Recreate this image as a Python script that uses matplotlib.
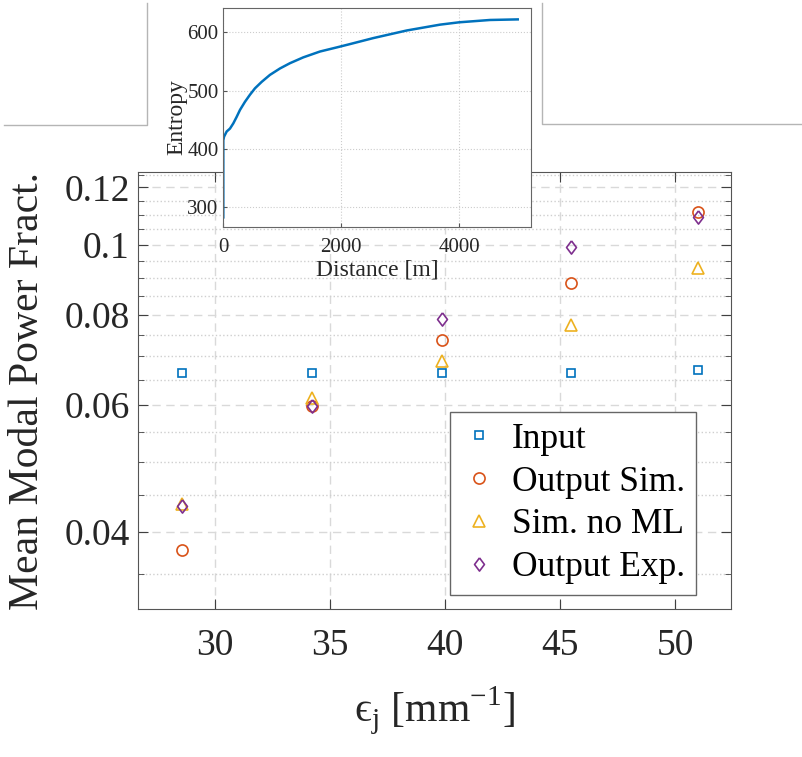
import numpy as np
import matplotlib
matplotlib.use('Agg')
import matplotlib.pyplot as plt
from matplotlib.lines import Line2D
from matplotlib.ticker import FixedLocator, NullFormatter

plt.rcParams['font.family'] = ['Liberation Serif', 'DejaVu Serif']
plt.rcParams['mathtext.fontset'] = 'custom'
plt.rcParams['mathtext.rm'] = 'Liberation Serif'

# main plot data
eps_j = [28.58, 34.23, 39.88, 45.48, 51.01]
input_vals = [0.0663, 0.0663, 0.0664, 0.0665, 0.0670]
output_sim = [0.0378, 0.0598, 0.0737, 0.0885, 0.1108]
sim_no_ml = [0.0437, 0.0614, 0.0690, 0.0773, 0.0929]
output_exp = [0.0435, 0.0598, 0.0788, 0.0993, 0.1092]

y_ticks = [0.04, 0.06, 0.08, 0.1, 0.12]
y_tick_labels = ['0.04', '0.06', '0.08', '0.1', '0.12']
y_minor = [0.035, 0.045, 0.05, 0.055, 0.065, 0.07, 0.075,
           0.085, 0.09, 0.095, 0.105, 0.11, 0.115, 0.125]
x_ticks = [30, 35, 40, 45, 50]

# inset data
distance = [0, 0, 12, 57, 113, 170, 226, 283, 368, 452, 537, 650, 791, 961,
            1130, 1356, 1639, 1922, 2119, 2543, 3108, 3673, 3995, 4520, 4990]
entropy = [283, 415, 421, 430, 435, 444, 455, 467, 481, 493, 504, 515, 527,
           538, 547, 557, 567, 574, 579, 590, 603, 613, 617, 621, 622]

BLUE = '#0072BD'
ORANGE = '#D95319'
YELLOW = '#EDB120'
PURPLE = '#7E2F8E'
W, H = 803, 757

# wider diamond like MATLAB's
diamond = [(0, 1), (0.75, 0), (0, -1), (-0.75, 0), (0, 1)]

fig = plt.figure(figsize=(W / 100, H / 100), dpi=100)

# outline remains around the inset
for xs, ys in [((4, 147, 147), (125, 125, 3)), ((541.7, 541.7, 803), (3, 124, 124))]:
    fig.add_artist(Line2D([x / W for x in xs], [1 - y / H for y in ys],
                          transform=fig.transFigure, color='#b5b5b5', lw=1))

ax = fig.add_axes([138 / W, 1 - 609 / H, (731 - 138) / W, (609 - 172) / H])
ax.set_yscale('log')
ax.plot(eps_j, input_vals, 's', mfc='none', mec=BLUE, ms=6, mew=1.2, label='Input')
ax.plot(eps_j, output_sim, 'o', mfc='none', mec=ORANGE, ms=8, mew=1.2, label='Output Sim.')
ax.plot(eps_j, sim_no_ml, '^', mfc='none', mec=YELLOW, ms=8.5, mew=1.2, label='Sim. no ML')
ax.plot(eps_j, output_exp, marker=diamond, ls='none', mfc='none', mec=PURPLE, ms=9.5,
        mew=1.2, label='Output Exp.')

ax.set_xlim(26.65, 52.43)
ax.set_ylim(0.0313, 0.126)
ax.set_xticks(x_ticks)
ax.yaxis.set_major_locator(FixedLocator(y_ticks))
ax.yaxis.set_minor_locator(FixedLocator(y_minor))
ax.yaxis.set_minor_formatter(NullFormatter())
ax.set_yticklabels(y_tick_labels)
ax.tick_params(which='both', direction='in', top=True, right=True,
               colors='#404040', labelcolor='#262626')
ax.tick_params(axis='x', which='major', labelsize=27, pad=14, length=7)
ax.tick_params(axis='y', which='major', labelsize=27, pad=6, length=7)
ax.tick_params(axis='y', which='minor', length=4)
ax.grid(True, which='major', ls=(0, (6, 4)), color='#d9d9d9', lw=1)
ax.grid(True, which='minor', axis='y', ls=':', color='#cfcfcf', lw=1)
for s in ax.spines.values():
    s.set_color('#555555')
ax.set_ylabel('Mean Modal Power Fract.', fontsize=30, labelpad=12, color='#262626')
ax.set_xlabel('\u03f5$_{\\rm j}$ [mm$^{{-}1}$]', fontsize=30, labelpad=16,
              color='#262626')

leg = ax.legend(loc='lower right', bbox_to_anchor=((696 - 138) / 593, (609 - 595) / 437),
                borderaxespad=0, fontsize=25.5, handlelength=1.0, handletextpad=0.45,
                labelspacing=0.28, borderpad=0.3, fancybox=False, framealpha=1)
leg.get_frame().set_edgecolor('#666666')
leg.get_frame().set_linewidth(1)

# inset plot
ins = fig.add_axes([223.3 / W, 1 - 226.7 / H, (531 - 223.3) / W, (226.7 - 8.3) / H])
ins.set_facecolor('white')
ins.plot(distance, entropy, color=BLUE, lw=1.8)
ins.set_xlim(0, 5215)
ins.set_ylim(267, 641)
ins.set_xticks([0, 2000, 4000])
ins.set_yticks([300, 400, 500, 600])
ins.tick_params(direction='in', length=3, labelsize=15, colors='#555555',
                labelcolor='#262626')
ins.tick_params(axis='x', pad=8)
ins.grid(True, ls=':', color='#cccccc', lw=0.8)
for s in ins.spines.values():
    s.set_color('#666666')
ins.set_xlabel('Distance [m]', fontsize=17, labelpad=2, color='#262626')
ins.set_ylabel('Entropy', fontsize=17, labelpad=0, color='#262626')

fig.savefig('out.png', dpi=100)
